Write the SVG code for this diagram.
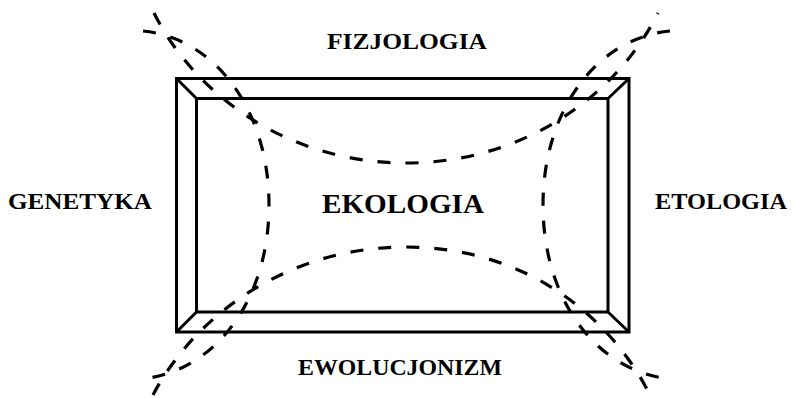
<svg xmlns="http://www.w3.org/2000/svg" width="794" height="398" viewBox="0 0 794 398">
<style>
.frame{fill:none;stroke:#000;stroke-width:3;stroke-linejoin:miter}
.dash{fill:none;stroke:#000;stroke-width:3.2;stroke-dasharray:13 15;stroke-linecap:butt}
.lbl{font-family:"Liberation Serif","Times New Roman",serif;font-weight:bold;fill:#000;text-anchor:middle}
</style>
<rect width="794" height="398" fill="#fff"/>
<g id="ekologia">
<rect class="frame" x="176.5" y="78.5" width="452.5" height="253.5"/>
<rect class="frame" x="196.5" y="98.5" width="411.5" height="213.5"/>
<path class="frame" d="M176.5,78.5L196.5,98.5M629,78.5L608,98.5M176.5,332L196.5,312M629,332L608,312"/>
<text class="lbl" x="403" y="213" font-size="28" textLength="162" lengthAdjust="spacingAndGlyphs">EKOLOGIA</text>
</g>
<g id="fizjologia"><text class="lbl" x="407" y="49" font-size="24" textLength="160" lengthAdjust="spacingAndGlyphs">FIZJOLOGIA</text></g>
<g id="genetyka"><text class="lbl" x="80" y="209" font-size="24" textLength="144" lengthAdjust="spacingAndGlyphs">GENETYKA</text></g>
<g id="etologia"><text class="lbl" x="721" y="209" font-size="24" textLength="132" lengthAdjust="spacingAndGlyphs">ETOLOGIA</text></g>
<g id="ewolucjonizm"><text class="lbl" x="400" y="375" font-size="24" textLength="204" lengthAdjust="spacingAndGlyphs">EWOLUCJONIZM</text></g>
<g id="connectors">
<path class="dash" d="M154,13C195,95 288,163 406,163C524,163 617,95 658,13"/>
<path class="dash" d="M153,395C195,315 288,247 406,247C524,247 610,315 650,395"/>
<path class="dash" d="M143,31C215,38 269,110 269,205C269,300 215,372 141,379"/>
<path class="dash" d="M670,31C597,38 543,110 543,205C543,300 597,372 671,379"/>
</g>
</svg>
